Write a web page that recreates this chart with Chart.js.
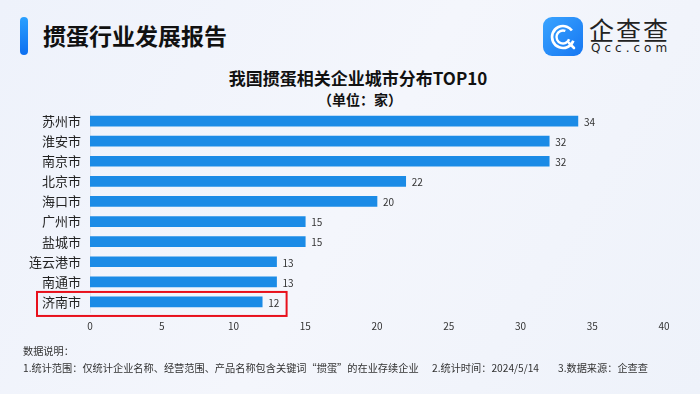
<!DOCTYPE html>
<html lang="zh">
  <head>
    <meta charset="utf-8" />
    <title>我国掼蛋相关企业城市分布TOP10</title>
    <style>
      * {
        margin: 0;
        padding: 0;
        font-family: "Noto Sans CJK SC", sans-serif;
      }
      body {
        width: 700px;
        height: 394px;
        overflow: hidden;
        background: linear-gradient(120deg, #eef2fb 0%, #f4f6fc 50%, #eef2fa 100%);
        position: relative;
      }
      .mark {
        position: absolute;
        left: 20px;
        top: 17px;
        width: 8px;
        height: 38px;
        border-radius: 4px;
        background: linear-gradient(180deg, #2aa0ff, #0d6ff0);
      }
      .head {
        position: absolute;
        left: 43px;
        top: 18px;
        font-size: 23px;
        font-weight: 700;
        color: #111;
        line-height: 34px;
      }
      .logo {
        position: absolute;
        left: 543px;
        top: 17px;
        width: 40px;
        height: 39px;
        border-radius: 9px;
        background: linear-gradient(135deg, #3aa4ff, #1677f2);
      }
      .logo svg {
        position: absolute;
        left: 6px;
        top: 6px;
      }
      .brand {
        position: absolute;
        left: 589px;
        top: 14px;
        font-size: 25px;
        letter-spacing: 2px;
        color: #222;
        line-height: 30px;
      }
      .brand2 {
        position: absolute;
        left: 591px;
        top: 41px;
        font-size: 12px;
        letter-spacing: 4px;
        color: #222;
        font-family: "DejaVu Sans", sans-serif;
      }
      .title {
        position: absolute;
        left: 0;
        width: 716px;
        text-align: center;
        top: 66px;
        font-size: 17px;
        font-weight: 700;
        color: #111;
        line-height: 24px;
      }
      .sub {
        position: absolute;
        left: 0;
        width: 720px;
        text-align: center;
        top: 89px;
        font-size: 14px;
        font-weight: 700;
        color: #111;
        line-height: 20px;
      }
      .chartBox {
        position: absolute;
        left: 0;
        top: 111px;
        width: 700px;
        height: 240px;
      }
      .note {
        position: absolute;
        font-size: 10.2px;
        color: #333;
        line-height: 14px;
        white-space: nowrap;
      }
    </style>
  </head>
  <body>
    <div class="mark"></div>
    <div class="head">掼蛋行业发展报告</div>
    <div class="logo">
      <svg width="28" height="28" viewBox="0 0 28 28">
        <circle cx="14" cy="14" r="11" fill="none" stroke="#fff" stroke-width="2.6" stroke-dasharray="58 12" transform="rotate(20 14 14)" />
        <circle cx="14" cy="14" r="6.5" fill="none" stroke="#fff" stroke-width="2.4" stroke-dasharray="30 10" transform="rotate(20 14 14)" />
        <line x1="20" y1="20" x2="25" y2="25" stroke="#fff" stroke-width="2.6" stroke-linecap="round" />
      </svg>
    </div>
    <div class="brand">企查查</div>
    <div class="brand2">Qcc.com</div>
    <div class="title">我国掼蛋相关企业城市分布TOP10</div>
    <div class="sub">（单位：家）</div>
    <div class="chartBox"><canvas id="myChart"></canvas></div>
    <div class="note" style="left: 23px; top: 344px">数据说明：</div>
    <div class="note" style="left: 23px; top: 361px">1.统计范围：仅统计企业名称、经营范围、产品名称包含关键词“掼蛋”的在业存续企业</div>
    <div class="note" style="left: 432px; top: 361px">2.统计时间：2024/5/14</div>
    <div class="note" style="left: 558px; top: 361px">3.数据来源：企查查</div>

    <script src="https://cdn.jsdelivr.net/npm/chart.js"></script>
    <script>
      // data
      const cities = ["苏州市", "淮安市", "南京市", "北京市", "海口市", "广州市", "盐城市", "连云港市", "南通市", "济南市"];
      const counts = [34, 32, 32, 22, 20, 15, 15, 13, 13, 12];
      const highlightIndex = 9;

      // value labels at the end of each bar
      const valueLabels = {
        id: "valueLabels",
        afterDatasetsDraw(chart) {
          const { ctx } = chart;
          const meta = chart.getDatasetMeta(0);
          ctx.save();
          ctx.font = "10px 'Noto Sans CJK SC'";
          ctx.fillStyle = "#333";
          ctx.textBaseline = "middle";
          meta.data.forEach((bar, i) => {
            ctx.fillText(counts[i], bar.x + 6, bar.y + 1);
          });
          ctx.restore();
        },
      };

      // red box around the highlighted city
      const highlightBox = {
        id: "highlightBox",
        afterDraw(chart) {
          const {
            ctx,
            scales: { x, y },
          } = chart;
          const yc = y.getPixelForValue(highlightIndex);
          const right = x.getPixelForValue(13.7);
          ctx.save();
          ctx.strokeStyle = "#e8101c";
          ctx.lineWidth = 2;
          ctx.strokeRect(37, yc - 10, right - 37, 24);
          ctx.restore();
        },
      };

      const config = {
        type: "bar",
        data: {
          labels: cities,
          datasets: [
            {
              data: counts,
              backgroundColor: "#1b8be6",
              barThickness: 10,
            },
          ],
        },
        options: {
          indexAxis: "y",
          responsive: true,
          maintainAspectRatio: false,
          animation: false,
          layout: { padding: { left: 0, right: 36, top: 0, bottom: 0 } },
          plugins: {
            legend: { display: false },
            tooltip: { enabled: false },
          },
          scales: {
            x: {
              min: 0,
              max: 40,
              ticks: {
                stepSize: 5,
                color: "#333",
                font: { size: 10, family: "'Noto Sans CJK SC'" },
                padding: 8,
              },
              grid: { display: false, drawTicks: false },
              border: { display: false },
              afterFit(scale) {
                scale.height = 39;
              },
            },
            y: {
              ticks: {
                color: "#222",
                font: { size: 13, family: "'Noto Sans CJK SC'" },
                padding: 9,
              },
              grid: { display: false, drawTicks: false },
              border: { display: true, color: "#e2e6ee" },
              afterFit(scale) {
                scale.width = 90;
                scale.paddingTop = 0;
                scale.paddingBottom = 0;
              },
            },
          },
        },
        plugins: [valueLabels, highlightBox],
      };

      const myChart = new Chart(document.getElementById("myChart"), config);
    </script>
  </body>
</html>
